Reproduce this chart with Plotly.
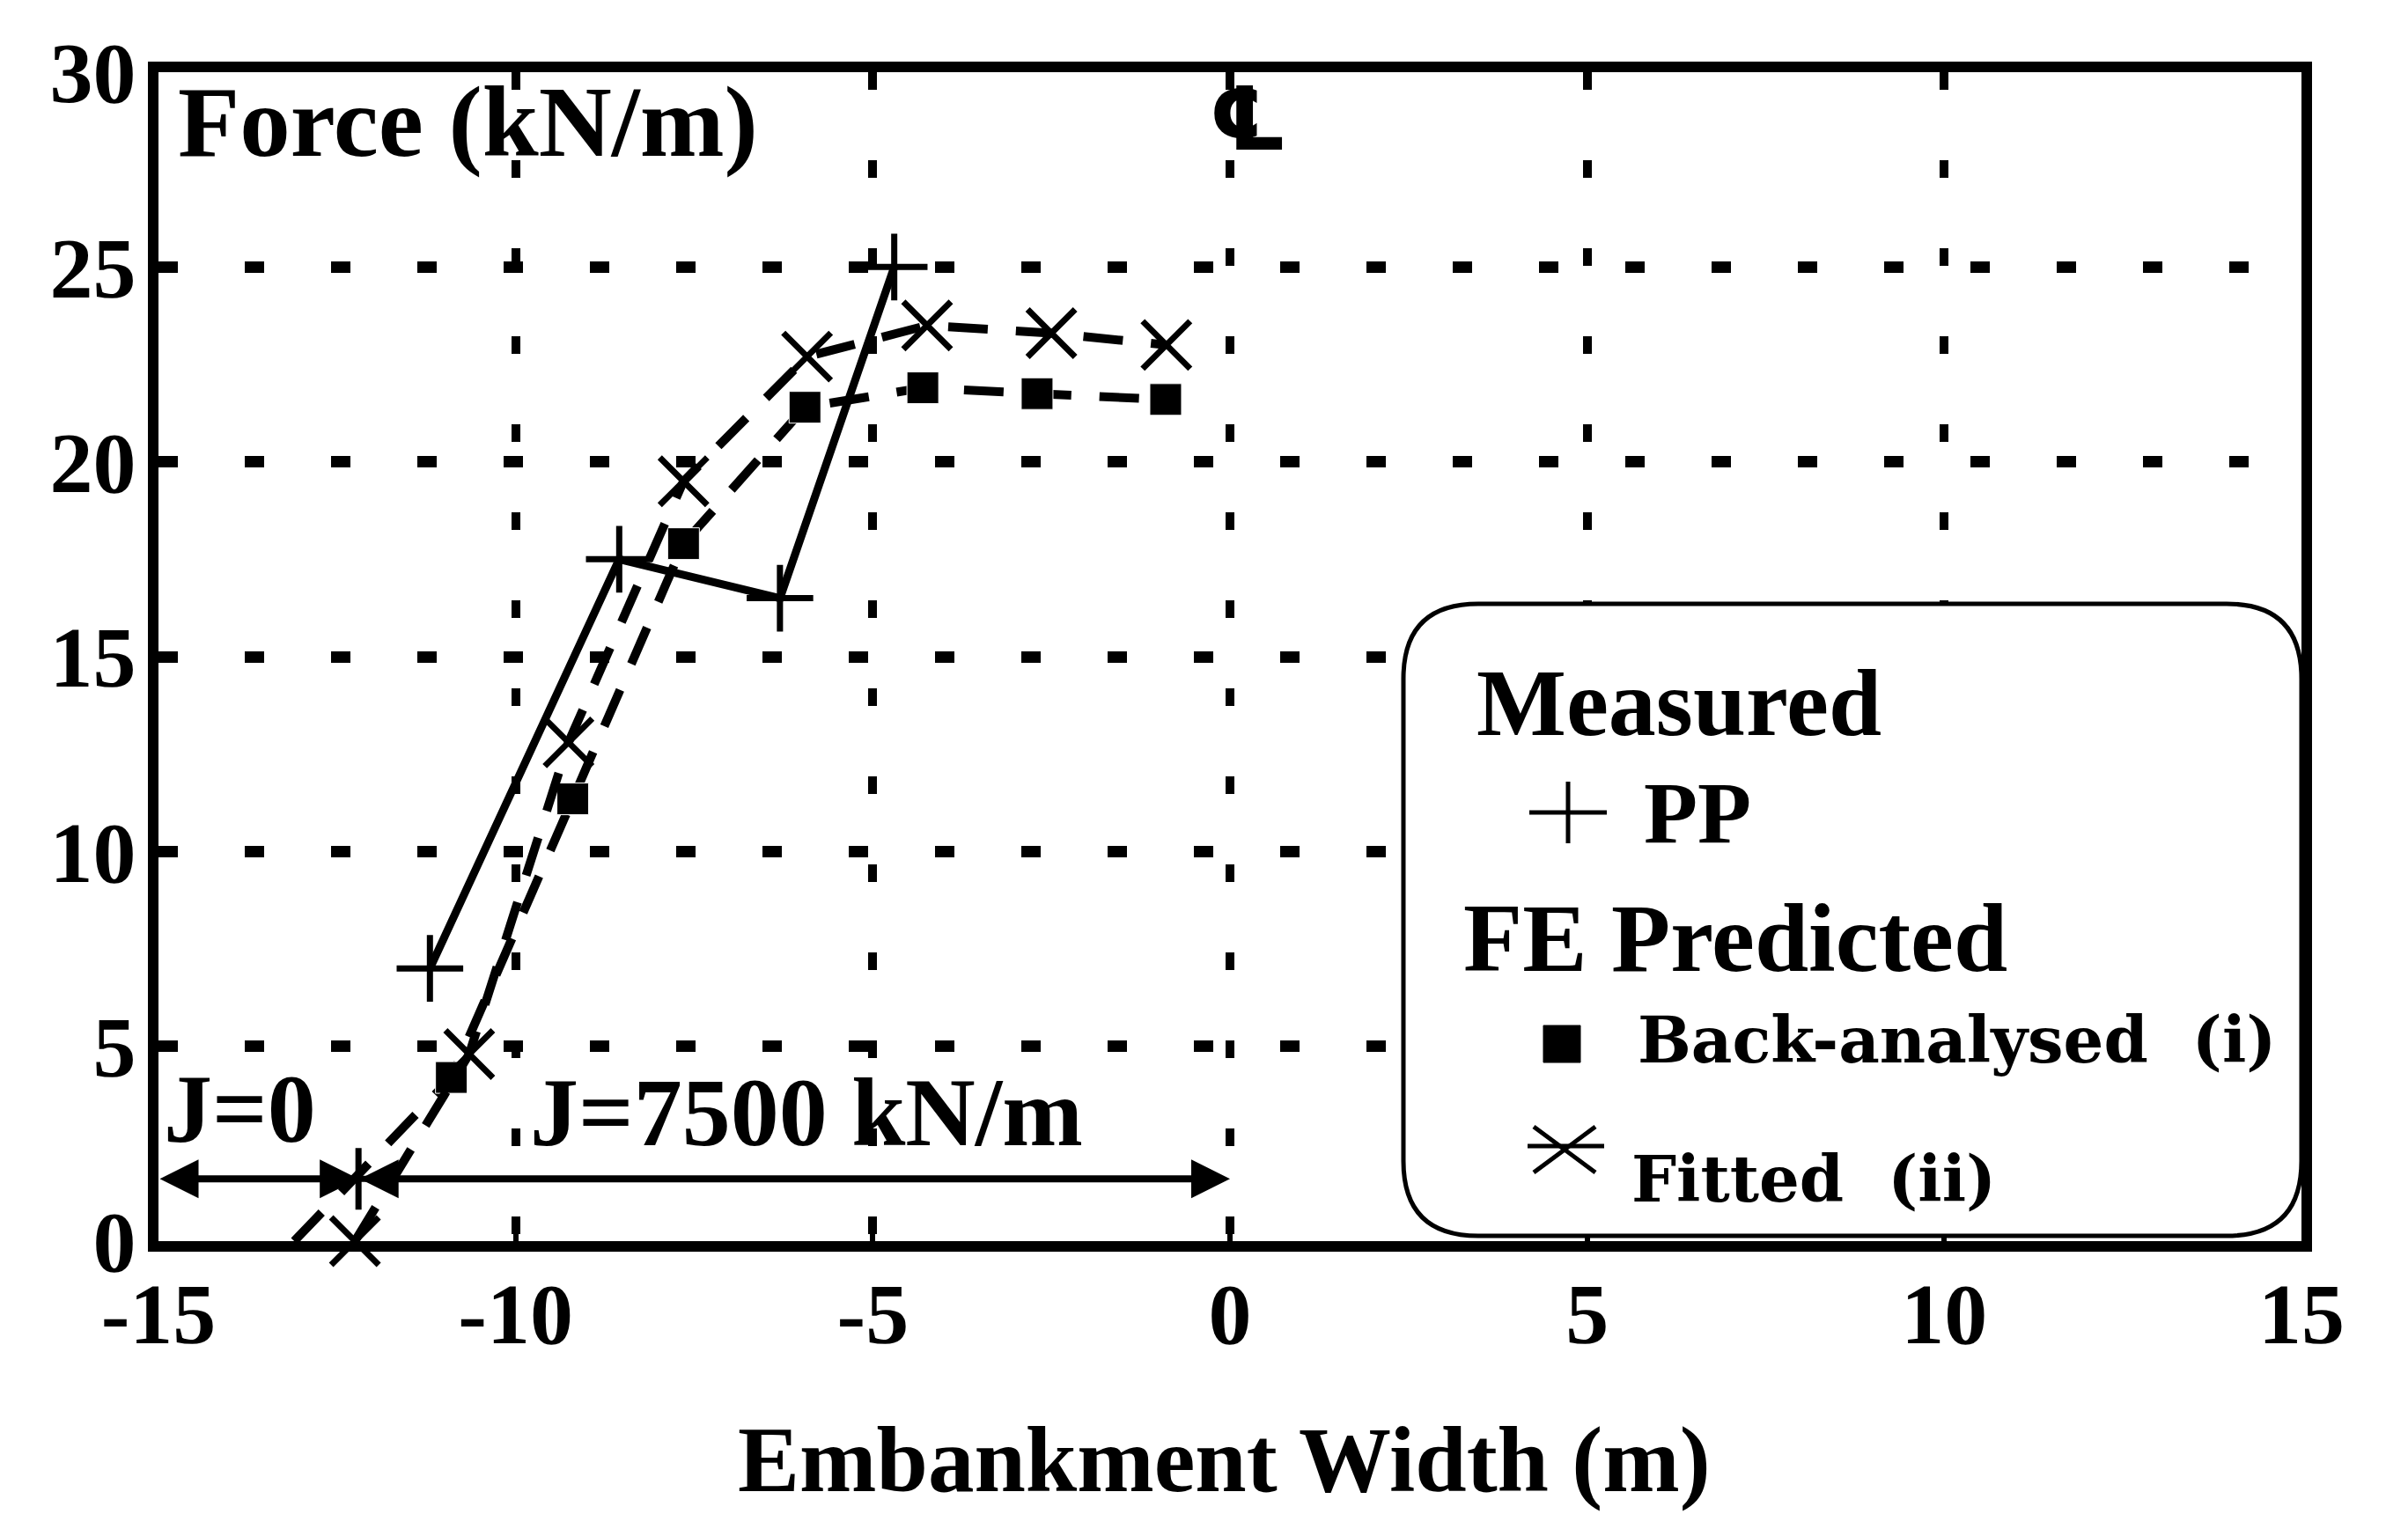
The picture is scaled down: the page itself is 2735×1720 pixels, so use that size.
import plotly.graph_objects as go

# ---------------- data ----------------
pp_x = [-11.2, -8.55, -6.3, -4.7]
pp_y = [7.0, 17.5, 16.5, 25.0]

back_x = [-13.1, -10.9, -9.2, -7.65, -5.95, -4.3, -2.7, -0.9]
back_y = [0.0, 4.2, 11.35, 17.9, 21.4, 21.9, 21.75, 21.6]

fit_x = [-12.25, -10.65, -9.26, -7.65, -5.92, -4.24, -2.5, -0.89]
fit_y = [0.0, 4.8, 12.8, 19.5, 22.7, 23.5, 23.3, 23.0]

# J zones along the base (reinforcement stiffness)
j_left = -15.0
j_split = -12.2
j_right = 0.0
j_level = 1.6

x_ticks = [-15, -10, -5, 0, 5, 10, 15]
y_ticks = [0, 5, 10, 15, 20, 25, 30]

# ---------------- layout geometry (pixels) ----------------
W, H = 2735, 1720
L, R, T, B = 180, 2614, 82, 1410
PW, PH = R - L, B - T


def px(x):
    return (x - L) / PW


def py(y):
    return (B - y) / PH


SERIF = "Liberation Serif"
WIDE = "DejaVu Serif"

fig = go.Figure()

fig.add_trace(go.Scatter(
    x=pp_x, y=pp_y, mode="lines+markers", name="PP",
    line=dict(color="black", width=9),
    marker=dict(symbol="cross-thin", size=54, line=dict(color="black", width=7)),
    cliponaxis=False,
))
back_sizes = [0] + [36] * (len(back_x) - 1)   # start of the curve has no marker
fig.add_trace(go.Scatter(
    x=back_x, y=back_y, mode="lines+markers", name="Back-analysed (i)",
    line=dict(color="black", width=10, dash="45px,32px"),
    marker=dict(symbol="square", size=back_sizes, color="black", opacity=1),
    cliponaxis=False,
))
fig.add_trace(go.Scatter(
    x=fit_x, y=fit_y, mode="lines+markers", name="Fitted (ii)",
    line=dict(color="black", width=10, dash="45px,32px"),
    marker=dict(symbol="x-thin", size=54, line=dict(color="black", width=7)),
    cliponaxis=False,
))
# split marker of the J zones
fig.add_trace(go.Scatter(
    x=[j_split], y=[j_level], mode="markers", showlegend=False,
    marker=dict(symbol="cross-thin", size=50, line=dict(color="black", width=7)),
    cliponaxis=False,
))

annotations = []
# J arrows
for a, b in [(j_left, j_split), (j_split, j_right)]:
    annotations.append(dict(
        x=b, y=j_level, ax=a, ay=j_level, xref="x", yref="y", axref="x", ayref="y",
        text="", showarrow=True, arrowhead=2, arrowside="end+start",
        arrowsize=1.1, arrowwidth=8, arrowcolor="black", standoff=0, startstandoff=0,
    ))
annotations.append(dict(x=-14.95, y=3.39, xref="x", yref="y", text="J=0",
                        showarrow=False, xanchor="left", yanchor="middle",
                        font=dict(family=SERIF, size=110, color="black", weight="bold")))
annotations.append(dict(x=-9.82, y=3.3, xref="x", yref="y", text="J=7500 kN/m",
                        showarrow=False, xanchor="left", yanchor="middle",
                        font=dict(family=SERIF, size=110, color="black", weight="bold")))
# centre line symbol
annotations.append(dict(x=0.26, y=28.8, xref="x", yref="y", text="℄",
                        showarrow=False, xanchor="center", yanchor="middle",
                        font=dict(family="DejaVu Sans", size=100, color="black", weight="bold")))
# y label inside
annotations.append(dict(x=px(200), y=py(139), xref="paper", yref="paper", text="Force (kN/m)",
                        showarrow=False, xanchor="left", yanchor="middle",
                        font=dict(family=SERIF, size=115, color="black", weight="bold")))
# x title
annotations.append(dict(x=px(1390), y=py(1658), xref="paper", yref="paper",
                        text="Embankment Width (m)", showarrow=False,
                        xanchor="center", yanchor="middle",
                        font=dict(family=SERIF, size=105, color="black", weight="bold")))
# legend texts
annotations.append(dict(x=px(1675), y=py(798), xref="paper", yref="paper", text="Measured",
                        showarrow=False, xanchor="left", yanchor="middle",
                        font=dict(family=SERIF, size=108, color="black", weight="bold")))
annotations.append(dict(x=px(1865), y=py(923), xref="paper", yref="paper", text="PP",
                        showarrow=False, xanchor="left", yanchor="middle",
                        font=dict(family=SERIF, size=100, color="black", weight="bold")))
annotations.append(dict(x=px(1660), y=py(1066), xref="paper", yref="paper", text="FE Predicted",
                        showarrow=False, xanchor="left", yanchor="middle",
                        font=dict(family=SERIF, size=110, color="black", weight="bold")))
annotations.append(dict(x=px(1858), y=py(1181), xref="paper", yref="paper",
                        text="Back-analysed  (i)",
                        showarrow=False, xanchor="left", yanchor="middle",
                        font=dict(family=WIDE, size=72, color="black", weight="bold")))
annotations.append(dict(x=px(1851), y=py(1339), xref="paper", yref="paper",
                        text="Fitted  (ii)",
                        showarrow=False, xanchor="left", yanchor="middle",
                        font=dict(family=WIDE, size=72, color="black", weight="bold")))

shapes = []
# rounded legend box
x0, x1 = px(1594), px(2614)
y0, y1 = py(1404), py(686)
rx, ry = 85 / PW, 85 / PH
path = (f"M {x0+rx},{y0} L {x1-rx},{y0} Q {x1},{y0} {x1},{y0+ry} "
        f"L {x1},{y1-ry} Q {x1},{y1} {x1-rx},{y1} L {x0+rx},{y1} "
        f"Q {x0},{y1} {x0},{y1-ry} L {x0},{y0+ry} Q {x0},{y0} {x0+rx},{y0} Z")
shapes.append(dict(type="path", path=path, xref="paper", yref="paper",
                   line=dict(color="black", width=5), fillcolor="white", layer="above"))
# legend glyphs
lw = 5
shapes.append(dict(type="line", xref="paper", yref="paper", x0=px(1737), x1=px(1825),
                   y0=py(923), y1=py(923), line=dict(color="black", width=lw)))
shapes.append(dict(type="line", xref="paper", yref="paper", x0=px(1781), x1=px(1781),
                   y0=py(888), y1=py(958), line=dict(color="black", width=lw)))
shapes.append(dict(type="rect", xref="paper", yref="paper", x0=px(1753), x1=px(1795),
                   y0=py(1165), y1=py(1207), line=dict(color="black", width=1), fillcolor="black"))
shapes.append(dict(type="line", xref="paper", yref="paper", x0=px(1742), x1=px(1812),
                   y0=py(1280), y1=py(1332), line=dict(color="black", width=lw)))
shapes.append(dict(type="line", xref="paper", yref="paper", x0=px(1812), x1=px(1742),
                   y0=py(1280), y1=py(1332), line=dict(color="black", width=lw)))
shapes.append(dict(type="line", xref="paper", yref="paper", x0=px(1735), x1=px(1822),
                   y0=py(1302), y1=py(1302), line=dict(color="black", width=lw)))

tickfont = dict(family=SERIF, size=98, color="black", weight="bold")

fig.update_layout(
    width=W, height=H,
    margin=dict(l=L, r=W - R, t=T, b=H - B, autoexpand=False),
    paper_bgcolor="white", plot_bgcolor="white",
    showlegend=False,
    annotations=annotations,
    shapes=shapes,
    xaxis=dict(range=[-15, 15], tickvals=x_ticks, ticktext=[str(v) for v in x_ticks],
               showgrid=True, gridcolor="black", gridwidth=10, griddash="20px,80px",
               showline=True, linecolor="black", linewidth=12, mirror=True,
               ticks="inside", ticklen=16, tickwidth=6, tickcolor="black",
               tickfont=tickfont, ticklabelstandoff=-14, zeroline=False, fixedrange=True),
    yaxis=dict(range=[0, 30], tickvals=y_ticks, ticktext=[str(v) for v in y_ticks],
               showgrid=True, gridcolor="black", gridwidth=13, griddash="22px,76px",
               showline=True, linecolor="black", linewidth=12, mirror=True,
               ticks="inside", ticklen=16, tickwidth=6, tickcolor="black",
               tickfont=tickfont, ticklabelstandoff=-6, zeroline=False, fixedrange=True),
)

fig.write_html("out.html")
